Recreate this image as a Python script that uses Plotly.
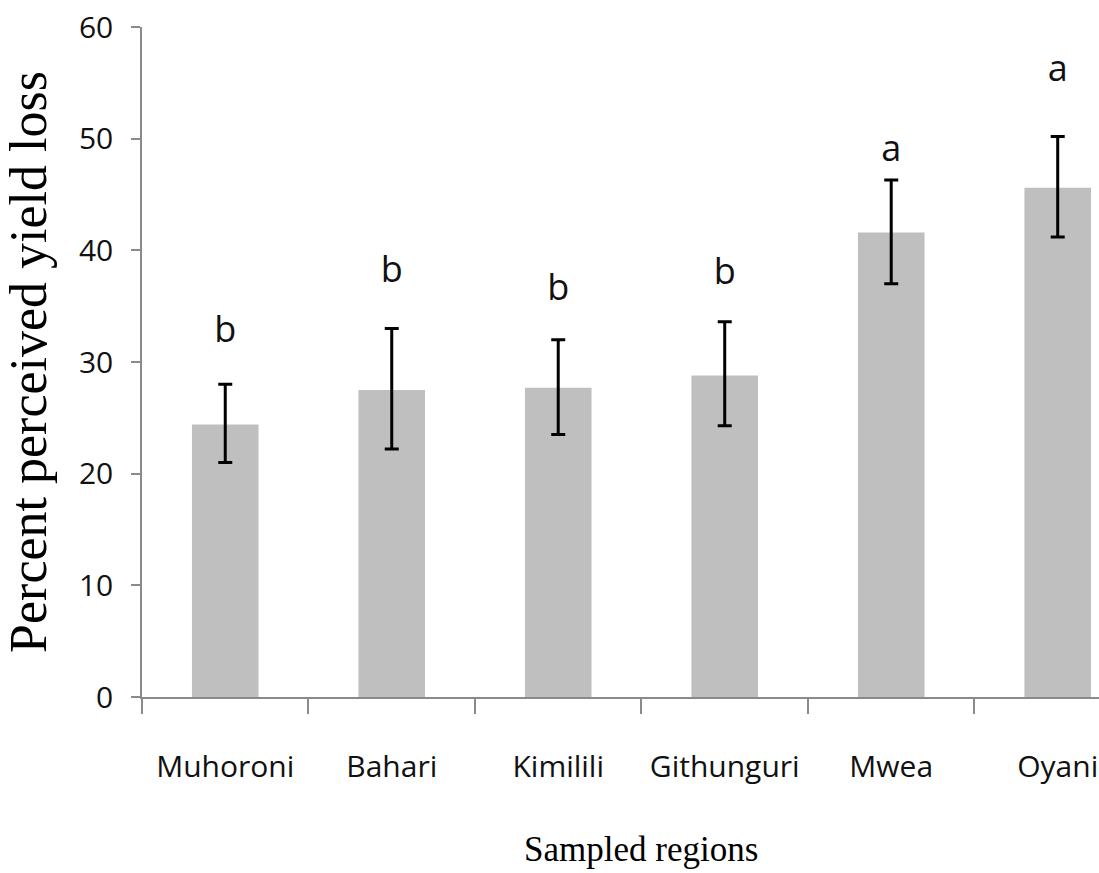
import plotly.graph_objects as go

regions = ["Muhoroni", "Bahari", "Kimilili", "Githunguri", "Mwea", "Oyani"]
loss = [24.4, 27.5, 27.7, 28.8, 41.6, 45.6]
err_upper = [28.0, 33.0, 32.0, 33.6, 46.3, 50.2]
err_lower = [21.0, 22.2, 23.5, 24.3, 37.0, 41.2]
letters = ["b", "b", "b", "b", "a", "a"]
letter_y = [32.6, 38.0, 36.4, 37.8, 48.8, 56.0]
y_ticks = [0, 10, 20, 30, 40, 50, 60]

plus = [u - m for u, m in zip(err_upper, loss)]
minus = [m - l for m, l in zip(loss, err_lower)]

fig = go.Figure()
fig.add_trace(go.Bar(
    x=regions, y=loss, width=0.4,
    marker=dict(color="#BFBFBF", line=dict(width=0)),
    error_y=dict(type="data", symmetric=False, array=plus, arrayminus=minus,
                 color="black", thickness=3, width=7),
    showlegend=False,
))
fig.add_trace(go.Scatter(
    x=regions, y=letter_y, mode="text", text=letters,
    textposition="middle center",
    textfont=dict(family="Open Sans", size=36, color="#111"),
    showlegend=False,
))

fig.update_layout(
    width=1099, height=873,
    margin=dict(l=142, r=0, t=27, b=176),
    paper_bgcolor="white", plot_bgcolor="white",
    bargap=0.6,
)
fig.update_xaxes(
    range=[-0.5, 5.248],
    showline=True, linecolor="#8a8a8a", linewidth=1.5,
    ticks="outside", tickson="boundaries", ticklen=15, tickcolor="#8a8a8a", tickwidth=1.5,
    tickfont=dict(family="Open Sans", size=30, color="#111"),
    ticklabelstandoff=42,
    showgrid=False, zeroline=False,
)
fig.update_yaxes(
    range=[0, 60], tickvals=y_ticks,
    showline=True, linecolor="#8a8a8a", linewidth=1.5,
    ticks="outside", ticklen=9, tickcolor="#8a8a8a", tickwidth=1.5,
    tickfont=dict(family="Open Sans", size=30, color="#111"),
    ticklabelstandoff=12,
    showgrid=False, zeroline=False,
    title=dict(text="Percent perceived yield loss",
               font=dict(family="Liberation Serif", size=52, color="black"),
               standoff=20),
)
fig.add_annotation(
    x=2.5, xref="x", y=-0.228, yref="paper",
    text="Sampled regions", showarrow=False, yanchor="middle",
    font=dict(family="Liberation Serif", size=35, color="black"),
)

fig.write_html("out.html", config={"displayModeBar": False},
               post_script="document.body.style.margin='0';document.body.style.overflow='hidden';")
